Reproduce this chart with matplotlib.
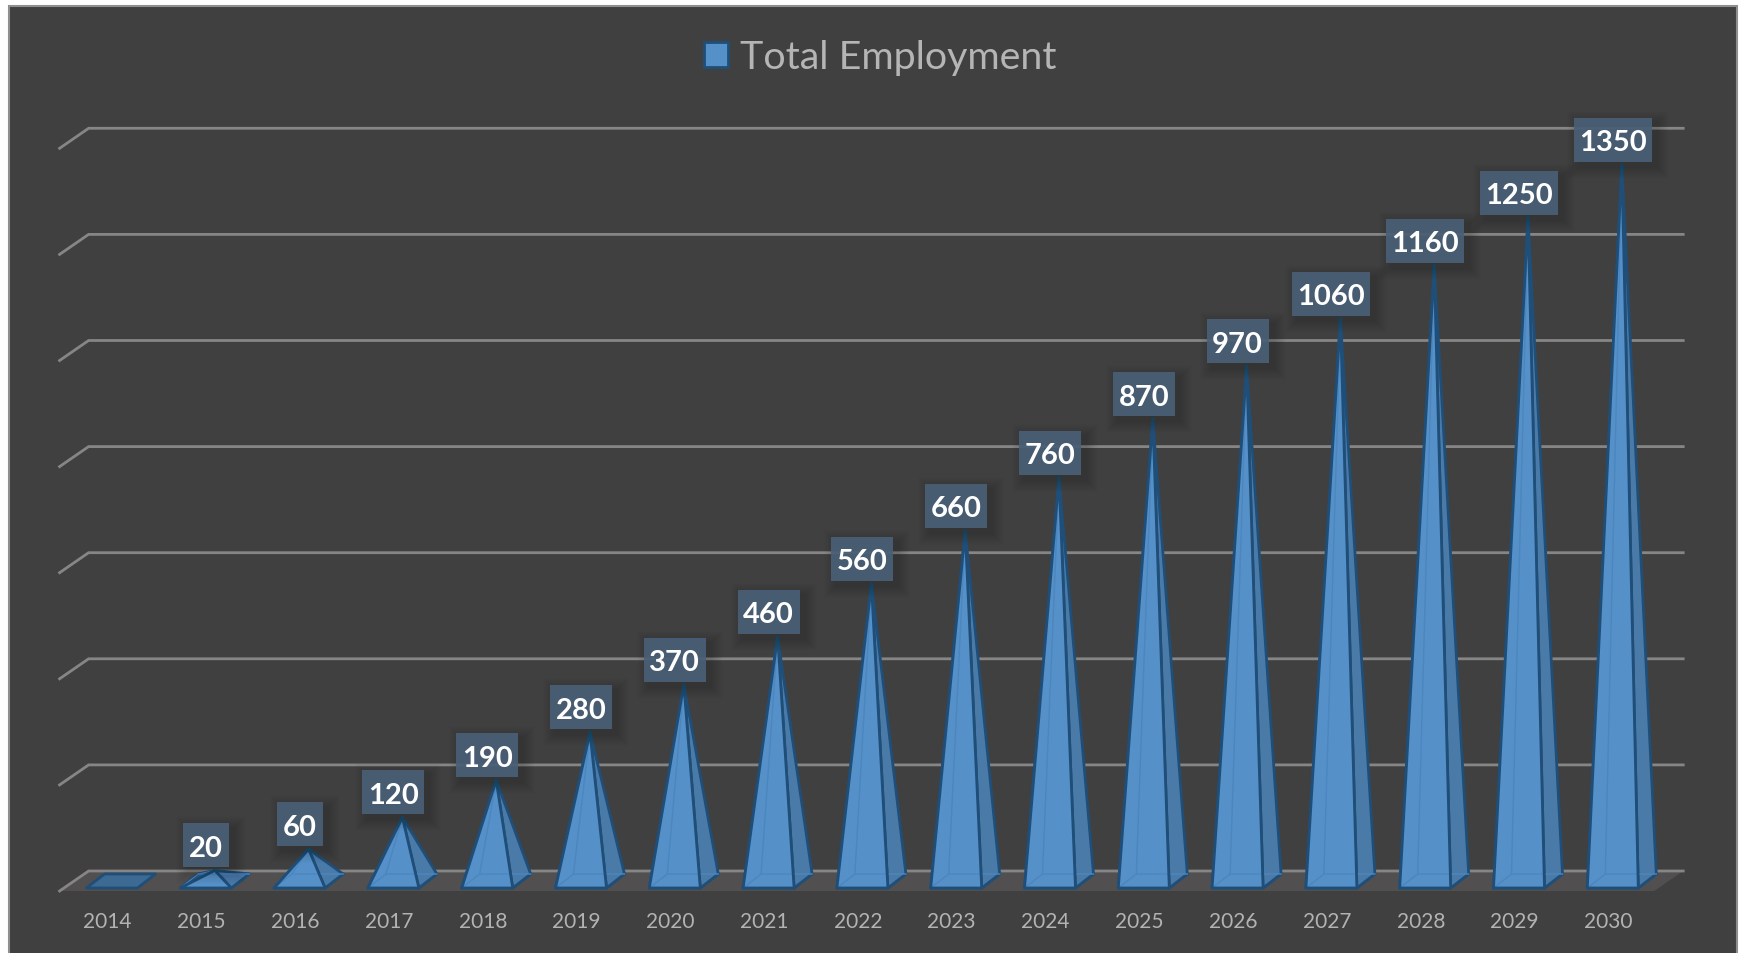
import matplotlib
matplotlib.use("Agg")
import matplotlib.pyplot as plt
from matplotlib.patches import Polygon, Rectangle, Patch

plt.rcParams['font.family'] = ['Lato', 'DejaVu Sans']

# data
years = ['2014', '2015', '2016', '2017', '2018', '2019', '2020', '2021', '2022',
         '2023', '2024', '2025', '2026', '2027', '2028', '2029', '2030']
employment = [0, 20, 60, 120, 190, 280, 370, 460, 560, 660, 760, 870, 970, 1060, 1160, 1250, 1350]
grid_values = [0, 200, 400, 600, 800, 1000, 1200, 1400]
series_name = 'Total Employment'

W, H = 1741, 954
X_PER_CAT = 93.8   # pixels per category
Y_PER_VAL = 0.5305  # pixels per unit of value
X0_PX = 121        # pixel of the first category
Y0_PX = 882        # pixel of value 0

BG = '#404040'
FRONT = '#5590c8'
SIDE = '#4a7aa8'
BACK = '#3d6a93'
EDGE = '#1f4e79'
HIDDEN = '#4c86bf'
GRID = '#868686'

# floor and pyramid sizes, in data units
floor_dx = 14.5 / X_PER_CAT
floor_dy = 10 / Y_PER_VAL
half_w = 25.5 / X_PER_CAT
bar_dx = 9 / X_PER_CAT
bar_dy = 7 / Y_PER_VAL

fig = plt.figure(figsize=(W / 100, H / 100), dpi=100, facecolor='white')
fig.add_artist(Rectangle((9 / W, -0.01), (1737 - 9) / W, 1.01 - 7 / H, transform=fig.transFigure,
                         facecolor=BG, edgecolor='#8f8f8f', linewidth=1.5, zorder=-1))

ax = fig.add_axes([0, 0, 1, 1])
ax.set_xlim(-X0_PX / X_PER_CAT, (W - X0_PX) / X_PER_CAT)
ax.set_ylim((Y0_PX - H) / Y_PER_VAL, Y0_PX / Y_PER_VAL)
ax.axis('off')

# floor
left, right = -0.5, 16.5
ax.add_patch(Polygon([(left - floor_dx, -floor_dy), (right - floor_dx, -floor_dy),
                      (right + floor_dx, floor_dy), (left + floor_dx, floor_dy)],
                     facecolor='#514f4f', edgecolor='none', zorder=1))

# back wall gridlines with the slanted bit on the left
for v in grid_values:
    ax.plot([left - floor_dx, left + floor_dx, right + floor_dx],
            [v - floor_dy, v + floor_dy, v + floor_dy],
            color=GRID, lw=2, solid_joinstyle='miter', zorder=2)

# pyramids
for i, v in enumerate(employment):
    fl = (i - half_w - bar_dx, -bar_dy)
    fr = (i + half_w - bar_dx, -bar_dy)
    br = (i + half_w + bar_dx, bar_dy)
    bl = (i - half_w + bar_dx, bar_dy)
    apex = (i, v)
    ax.add_patch(Polygon([fl, fr, br, bl], facecolor=BACK, edgecolor=EDGE, lw=2,
                         joinstyle='round', zorder=3))
    if v == 0:
        continue
    ax.add_patch(Polygon([fl, bl, apex], facecolor=BACK, edgecolor=EDGE, lw=2,
                         joinstyle='round', zorder=3))
    ax.add_patch(Polygon([fr, br, apex], facecolor=SIDE, edgecolor=EDGE, lw=2,
                         joinstyle='round', zorder=4))
    ax.add_patch(Polygon([fl, fr, apex], facecolor=FRONT, edgecolor='none', zorder=5))
    # hidden edges showing faintly through the faces
    ax.plot([bl[0], apex[0]], [bl[1], apex[1]], color=HIDDEN, lw=1, zorder=6)
    ax.plot([fl[0], bl[0], br[0]], [fl[1], bl[1], br[1]], color=HIDDEN, lw=1, zorder=6)
    ax.add_patch(Polygon([fl, fr, apex], facecolor='none', edgecolor=EDGE, lw=2,
                         joinstyle='round', zorder=6.5))

# value labels with a soft shadow
box_w = {2: 46, 3: 62, 4: 78}
box_h = 44 / Y_PER_VAL
for i, v in enumerate(employment):
    if v == 0:
        continue
    label = str(v)
    w = box_w[len(label)] / X_PER_CAT
    x = i - 9 / X_PER_CAT - w / 2
    y = v + 3 / Y_PER_VAL
    for grow in range(12, 0, -1):
        gx = grow / X_PER_CAT
        gy = grow / Y_PER_VAL
        ax.add_patch(Rectangle((x + 5 / X_PER_CAT - gx, y - 5 / Y_PER_VAL - gy),
                               w + 2 * gx, box_h + 2 * gy,
                               facecolor='black', edgecolor='none', alpha=0.012, zorder=7))
    ax.add_patch(Rectangle((x, y), w, box_h, facecolor='#4a6078', edgecolor='none',
                           alpha=0.9, zorder=8))
    ax.text(x + w / 2, y + box_h / 2, label, color='white', fontsize=21, fontweight='bold',
            ha='center', va='center_baseline', zorder=9)

# category labels
for i, year in enumerate(years):
    ax.text(i - 13.5 / X_PER_CAT, (Y0_PX - 922) / Y_PER_VAL, year, color='#b3b3b3', fontsize=15,
            ha='center', va='center')

# legend
handle = Patch(facecolor=FRONT, edgecolor=EDGE, linewidth=2)
leg = ax.legend([handle], [series_name], loc='center', bbox_to_anchor=(880 / W, 1 - 58 / H),
                frameon=False, fontsize=28.4, labelcolor='#b5b5b5', handlelength=0.6,
                handleheight=0.6, handletextpad=0.3)

fig.savefig('out.png', dpi=100, facecolor='white')
